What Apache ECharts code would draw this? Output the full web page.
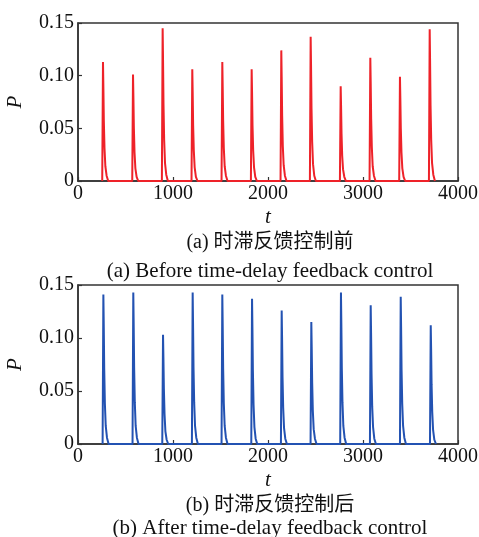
<!DOCTYPE html>
<html>
<head>
<meta charset="utf-8">
<script src="https://cdn.jsdelivr.net/npm/echarts@6/dist/echarts.min.js"></script>
<style>
  html, body { margin: 0; padding: 0; background: #fff; }
  #chart { width: 479px; height: 537px; }
</style>
</head>
<body>
<div id="chart"></div>
<script>
// Axis ticks
const tTicks = [0, 1000, 2000, 3000, 4000];
const pTicks = [0, 0.05, 0.10, 0.15];

// Sample times of each pulse, relative to its onset
const pulseOffsets = [-8, 0, 4, 9, 16, 25, 38, 55];

// (a) without control: pulse onsets and sampled P values
const beforeOnsets = [263, 579, 891, 1203, 1519, 1828, 2140, 2449, 2765, 3077, 3389, 3702];
const beforePulses = [
  [0, 0.113, 0.090, 0.057, 0.031, 0.014, 0.005, 0],
  [0, 0.101, 0.081, 0.051, 0.027, 0.012, 0.004, 0],
  [0, 0.145, 0.116, 0.073, 0.039, 0.017, 0.006, 0],
  [0, 0.106, 0.085, 0.053, 0.029, 0.013, 0.004, 0],
  [0, 0.113, 0.090, 0.057, 0.031, 0.014, 0.005, 0],
  [0, 0.106, 0.085, 0.053, 0.029, 0.013, 0.004, 0],
  [0, 0.124, 0.099, 0.062, 0.033, 0.015, 0.005, 0],
  [0, 0.137, 0.110, 0.069, 0.037, 0.016, 0.005, 0],
  [0, 0.090, 0.072, 0.045, 0.024, 0.011, 0.004, 0],
  [0, 0.117, 0.094, 0.059, 0.032, 0.014, 0.005, 0],
  [0, 0.099, 0.079, 0.050, 0.027, 0.012, 0.004, 0],
  [0, 0.144, 0.115, 0.072, 0.039, 0.017, 0.006, 0]
];

// (b) with time-delay feedback control
const afterOnsets = [267, 582, 895, 1207, 1519, 1832, 2144, 2456, 2768, 3081, 3397, 3713];
const afterPulses = [
  [0, 0.141, 0.113, 0.071, 0.038, 0.017, 0.006, 0],
  [0, 0.143, 0.114, 0.072, 0.039, 0.017, 0.006, 0],
  [0, 0.103, 0.082, 0.052, 0.028, 0.012, 0.004, 0],
  [0, 0.143, 0.114, 0.072, 0.039, 0.017, 0.006, 0],
  [0, 0.141, 0.113, 0.071, 0.038, 0.017, 0.006, 0],
  [0, 0.137, 0.110, 0.069, 0.037, 0.016, 0.005, 0],
  [0, 0.126, 0.101, 0.063, 0.034, 0.015, 0.005, 0],
  [0, 0.115, 0.092, 0.058, 0.031, 0.014, 0.005, 0],
  [0, 0.143, 0.114, 0.072, 0.039, 0.017, 0.006, 0],
  [0, 0.131, 0.105, 0.066, 0.035, 0.016, 0.005, 0],
  [0, 0.139, 0.111, 0.070, 0.038, 0.017, 0.006, 0],
  [0, 0.112, 0.090, 0.056, 0.030, 0.013, 0.004, 0]
];

const captionsCN = ['(a) 时滞反馈控制前', '(b) 时滞反馈控制后'];
const captionsEN = ['(a) Before time-delay feedback control', '(b) After time-delay feedback control'];

const serif = '"Liberation Serif", "Times New Roman", "Noto Sans CJK SC", serif';
const axisColor = '#333';

function buildSeries(onsets, pulses) {
  const pts = [];
  onsets.forEach((t0, i) => {
    pulseOffsets.forEach((dt, k) => pts.push([t0 + dt, pulses[i][k]]));
  });
  return pts;
}

const grids = [
  { left: 78, top: 23, width: 380, height: 158 },
  { left: 78, top: 285, width: 380, height: 159 }
];

function xAxisFor(idx) {
  return {
    type: 'value', gridIndex: idx,
    min: tTicks[0], max: tTicks[tTicks.length - 1], interval: 1000,
    name: 't', nameLocation: 'middle', nameGap: 26,
    nameTextStyle: { fontFamily: serif, fontStyle: 'italic', fontSize: 21, color: '#111' },
    axisLine: { show: true, lineStyle: { color: axisColor, width: 1.5 } },
    axisTick: { show: true, inside: true, length: 4, lineStyle: { color: axisColor, width: 1.2 } },
    axisLabel: { fontFamily: serif, fontSize: 20, color: '#111', margin: 3, formatter: v => String(v) },
    splitLine: { show: false }
  };
}
function yAxisFor(idx) {
  return {
    type: 'value', gridIndex: idx,
    min: pTicks[0], max: pTicks[pTicks.length - 1], interval: 0.05,
    name: 'P', nameLocation: 'middle', nameGap: 52, nameRotate: 90,
    nameTextStyle: { fontFamily: serif, fontStyle: 'italic', fontSize: 21, color: '#111' },
    axisLine: { show: true, lineStyle: { color: axisColor, width: 1.5 } },
    axisTick: { show: true, inside: true, length: 4, lineStyle: { color: axisColor, width: 1.2 } },
    axisLabel: {
      fontFamily: serif, fontSize: 20, color: '#111', margin: 4,
      formatter: v => (v === 0 ? '0' : v.toFixed(2))
    },
    splitLine: { show: false }
  };
}

// Captions under each panel, centred on the plot area
const captionX = 270;
const cnTops = [233, 496];
const enTops = [261, 518];
const captionText = [];
[0, 1].forEach(i => {
  captionText.push({
    type: 'text', x: captionX, y: cnTops[i],
    style: { text: captionsCN[i], font: '20px ' + serif, fill: '#111', textAlign: 'center', textVerticalAlign: 'top' }
  });
  captionText.push({
    type: 'text', x: captionX, y: enTops[i],
    style: { text: captionsEN[i], font: '21px ' + serif, fill: '#111', textAlign: 'center', textVerticalAlign: 'top' }
  });
});

const chart = echarts.init(document.getElementById('chart'), null, { renderer: 'canvas' });
chart.setOption({
  animation: false,
  backgroundColor: '#fff',
  grid: grids.map(g => Object.assign({
    show: true, borderColor: axisColor, borderWidth: 1.5,
    containLabel: false, outerBoundsMode: 'none'
  }, g)),
  xAxis: [xAxisFor(0), xAxisFor(1)],
  yAxis: [yAxisFor(0), yAxisFor(1)],
  series: [
    {
      type: 'line', xAxisIndex: 0, yAxisIndex: 0,
      data: buildSeries(beforeOnsets, beforePulses),
      showSymbol: false, lineStyle: { color: '#ee2229', width: 2 }
    },
    {
      type: 'line', xAxisIndex: 1, yAxisIndex: 1,
      data: buildSeries(afterOnsets, afterPulses),
      showSymbol: false, lineStyle: { color: '#2352b2', width: 2 }
    }
  ],
  graphic: captionText
});
</script>
</body>
</html>
